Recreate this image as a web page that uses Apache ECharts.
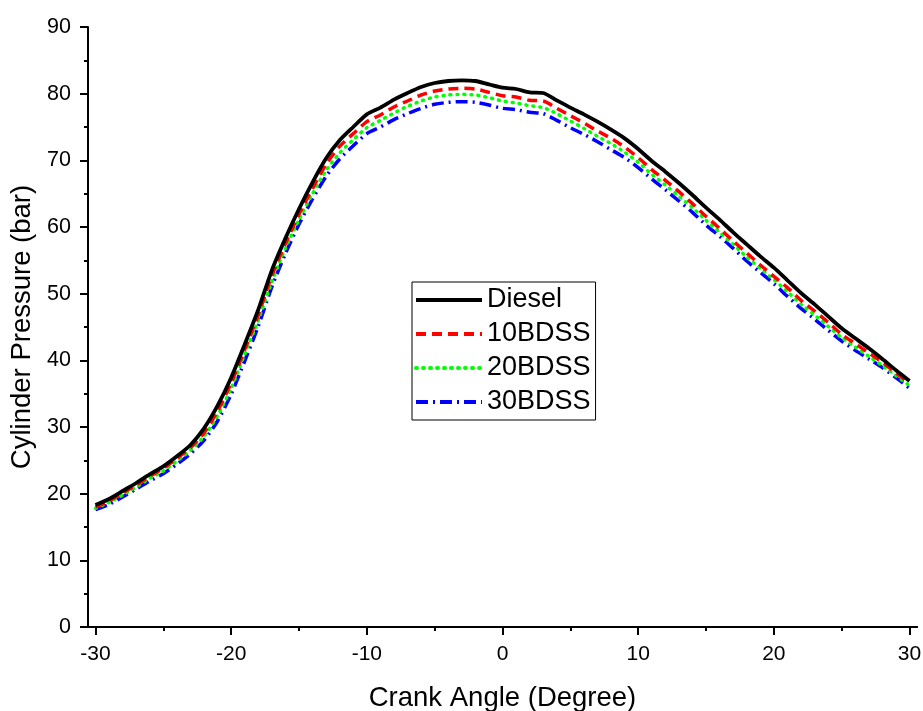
<!DOCTYPE html>
<html>
<head>
<meta charset="utf-8">
<script src="https://cdn.jsdelivr.net/npm/echarts@6/dist/echarts.min.js"></script>
<style>
html,body{margin:0;padding:0;background:#fff;}
#chart{width:923px;height:711px;}
</style>
</head>
<body>
<div id="chart"></div>
<script>
const angles = [-30,-29,-28,-27,-26,-25,-24,-23,-22,-21,-20,-19,-18,-17,-16,-15,-14,-13,-12,-11,-10,-9,-8,-7,-6,-5,-4,-3,-2,-1,0,1,2,3,4,5,6,7,8,9,10,11,12,13,14,15,16,17,18,19,20,21,22,23,24,25,26,27,28,29,30];
const diesel = [18.3,19.2,20.4,21.6,22.9,24.1,25.6,27.3,29.8,33.2,37.4,42.4,47.6,53.5,58.3,62.7,66.7,70.3,73.0,75.0,76.9,77.9,79.1,80.1,81.0,81.6,81.9,82.0,81.9,81.4,80.9,80.7,80.2,80.1,79.0,77.9,76.9,75.8,74.6,73.3,71.7,69.9,68.3,66.6,64.8,62.9,61.1,59.2,57.4,55.6,53.9,52.0,50.1,48.4,46.6,44.8,43.3,41.8,40.2,38.5,36.9];
const bdss10 = [18.0,18.9,20.1,21.3,22.6,23.8,25.3,26.9,29.1,32.4,36.6,41.6,46.8,52.7,57.5,61.9,65.8,69.4,72.1,74.0,75.8,76.8,78.0,78.9,79.8,80.4,80.7,80.8,80.7,80.2,79.7,79.5,79.0,78.9,77.8,76.7,75.6,74.4,73.3,72.0,70.4,68.6,67.0,65.3,63.5,61.6,59.8,57.9,56.1,54.3,52.6,50.9,49.0,47.4,45.7,43.9,42.5,41.1,39.7,38.1,36.6];
const bdss20 = [17.8,18.7,19.8,21.0,22.3,23.4,24.9,26.5,28.6,31.7,35.8,40.9,46.0,51.8,56.8,61.1,65.0,68.5,71.1,73.1,74.9,76.0,77.1,78.1,78.9,79.5,79.8,79.9,79.8,79.4,78.9,78.6,78.2,77.9,77.0,75.9,74.8,73.6,72.5,71.2,69.7,67.9,66.3,64.6,62.9,61.0,59.2,57.4,55.5,53.8,52.1,50.3,48.4,46.8,45.1,43.4,42.0,40.6,39.2,37.7,36.2];
const bdss30 = [17.6,18.4,19.5,20.7,21.9,23.0,24.4,26.0,28.0,30.9,34.9,39.9,45.1,51.0,56.0,60.4,64.2,67.6,70.2,72.2,74.0,75.0,76.1,77.0,77.8,78.4,78.7,78.8,78.7,78.3,77.8,77.6,77.2,77.0,76.0,74.9,73.9,72.8,71.6,70.4,68.9,67.2,65.6,63.9,62.2,60.3,58.6,56.8,54.9,53.2,51.5,49.6,47.8,46.2,44.5,42.9,41.5,40.2,38.9,37.4,35.8];
const seriesNames = ['Diesel','10BDSS','20BDSS','30BDSS'];
const xMajorTicks = [-30,-20,-10,0,10,20,30];
const xMinorTicks = [-25,-15,-5,5,15,25];
const xTitle = 'Crank Angle (Degree)';
const yTitle = 'Cylinder Pressure (bar)';

const FONT = 'Liberation Sans, Arial, sans-serif';
const pair = arr => angles.map((a,i)=>[a,arr[i]]);
const XMIN = -30.55, XMAX = 30.55;

const chart = echarts.init(document.getElementById('chart'), null, {renderer:'canvas'});
const baseX = {
  type:'value', min:XMIN, max:XMAX, position:'bottom',
  splitLine:{show:false},
  axisLine:{show:true, onZero:false, lineStyle:{color:'#000', width:2}}
};
chart.setOption({
  animation:false,
  backgroundColor:'#fff',
  grid:{left:88, right:6, top:27, bottom:84, containLabel:false, outerBoundsMode:'none'},
  legend:{
    orient:'vertical', left:412, top:282,
    padding:[3,5,3,2],
    borderColor:'#000', borderWidth:1,
    itemWidth:66, itemHeight:14, itemGap:4,
    itemStyle:{opacity:0},
    lineStyle:{width:4},
    textStyle:{fontFamily:FONT, fontSize:27, color:'#000', lineHeight:30},
    data:seriesNames
  },
  xAxis:[
    Object.assign({}, baseX, {
      name:xTitle, nameLocation:'middle', nameGap:57,
      nameTextStyle:{fontFamily:FONT, fontSize:27.5, color:'#000'},
      axisTick:{show:true, length:8, lineStyle:{color:'#000', width:2}, customValues:xMajorTicks},
      axisLabel:{fontFamily:FONT, fontSize:21, color:'#000', margin:17, customValues:xMajorTicks}
    }),
    Object.assign({}, baseX, {
      axisTick:{show:true, length:4, lineStyle:{color:'#000', width:2}, customValues:xMinorTicks},
      axisLabel:{show:false}
    })
  ],
  yAxis:{
    type:'value', min:0, max:90, interval:10,
    name:yTitle, nameLocation:'middle', nameGap:40,
    nameTextStyle:{fontFamily:FONT, fontSize:27.5, color:'#000'},
    splitLine:{show:false},
    axisLine:{show:true, onZero:false, lineStyle:{color:'#000', width:2}},
    axisTick:{show:true, length:8, lineStyle:{color:'#000', width:2}},
    minorTick:{show:true, splitNumber:2, length:4, lineStyle:{color:'#000', width:2}},
    axisLabel:{fontFamily:FONT, fontSize:21.5, color:'#000', margin:17}
  },
  series:[
    {name:seriesNames[0], type:'line', xAxisIndex:0, data:pair(diesel), symbol:'none', smooth:0.25, z:5,
     itemStyle:{color:'#000'}, lineStyle:{color:'#000', width:3.8, type:'solid'}},
    {name:seriesNames[1], type:'line', xAxisIndex:0, data:pair(bdss10), symbol:'none', smooth:0.25, z:4,
     itemStyle:{color:'#ff0000'}, lineStyle:{color:'#ff0000', width:3.5, type:[10,6]}},
    {name:seriesNames[2], type:'line', xAxisIndex:0, data:pair(bdss20), symbol:'none', smooth:0.25, z:3,
     itemStyle:{color:'#00ff00'}, lineStyle:{color:'#00ff00', width:3.5, type:[1,6], cap:'round'}},
    {name:seriesNames[3], type:'line', xAxisIndex:0, data:pair(bdss30), symbol:'none', smooth:0.25, z:2,
     itemStyle:{color:'#0000ff'}, lineStyle:{color:'#0000ff', width:3.5, type:[12,5,2,5]}}
  ]
});
</script>
</body>
</html>
